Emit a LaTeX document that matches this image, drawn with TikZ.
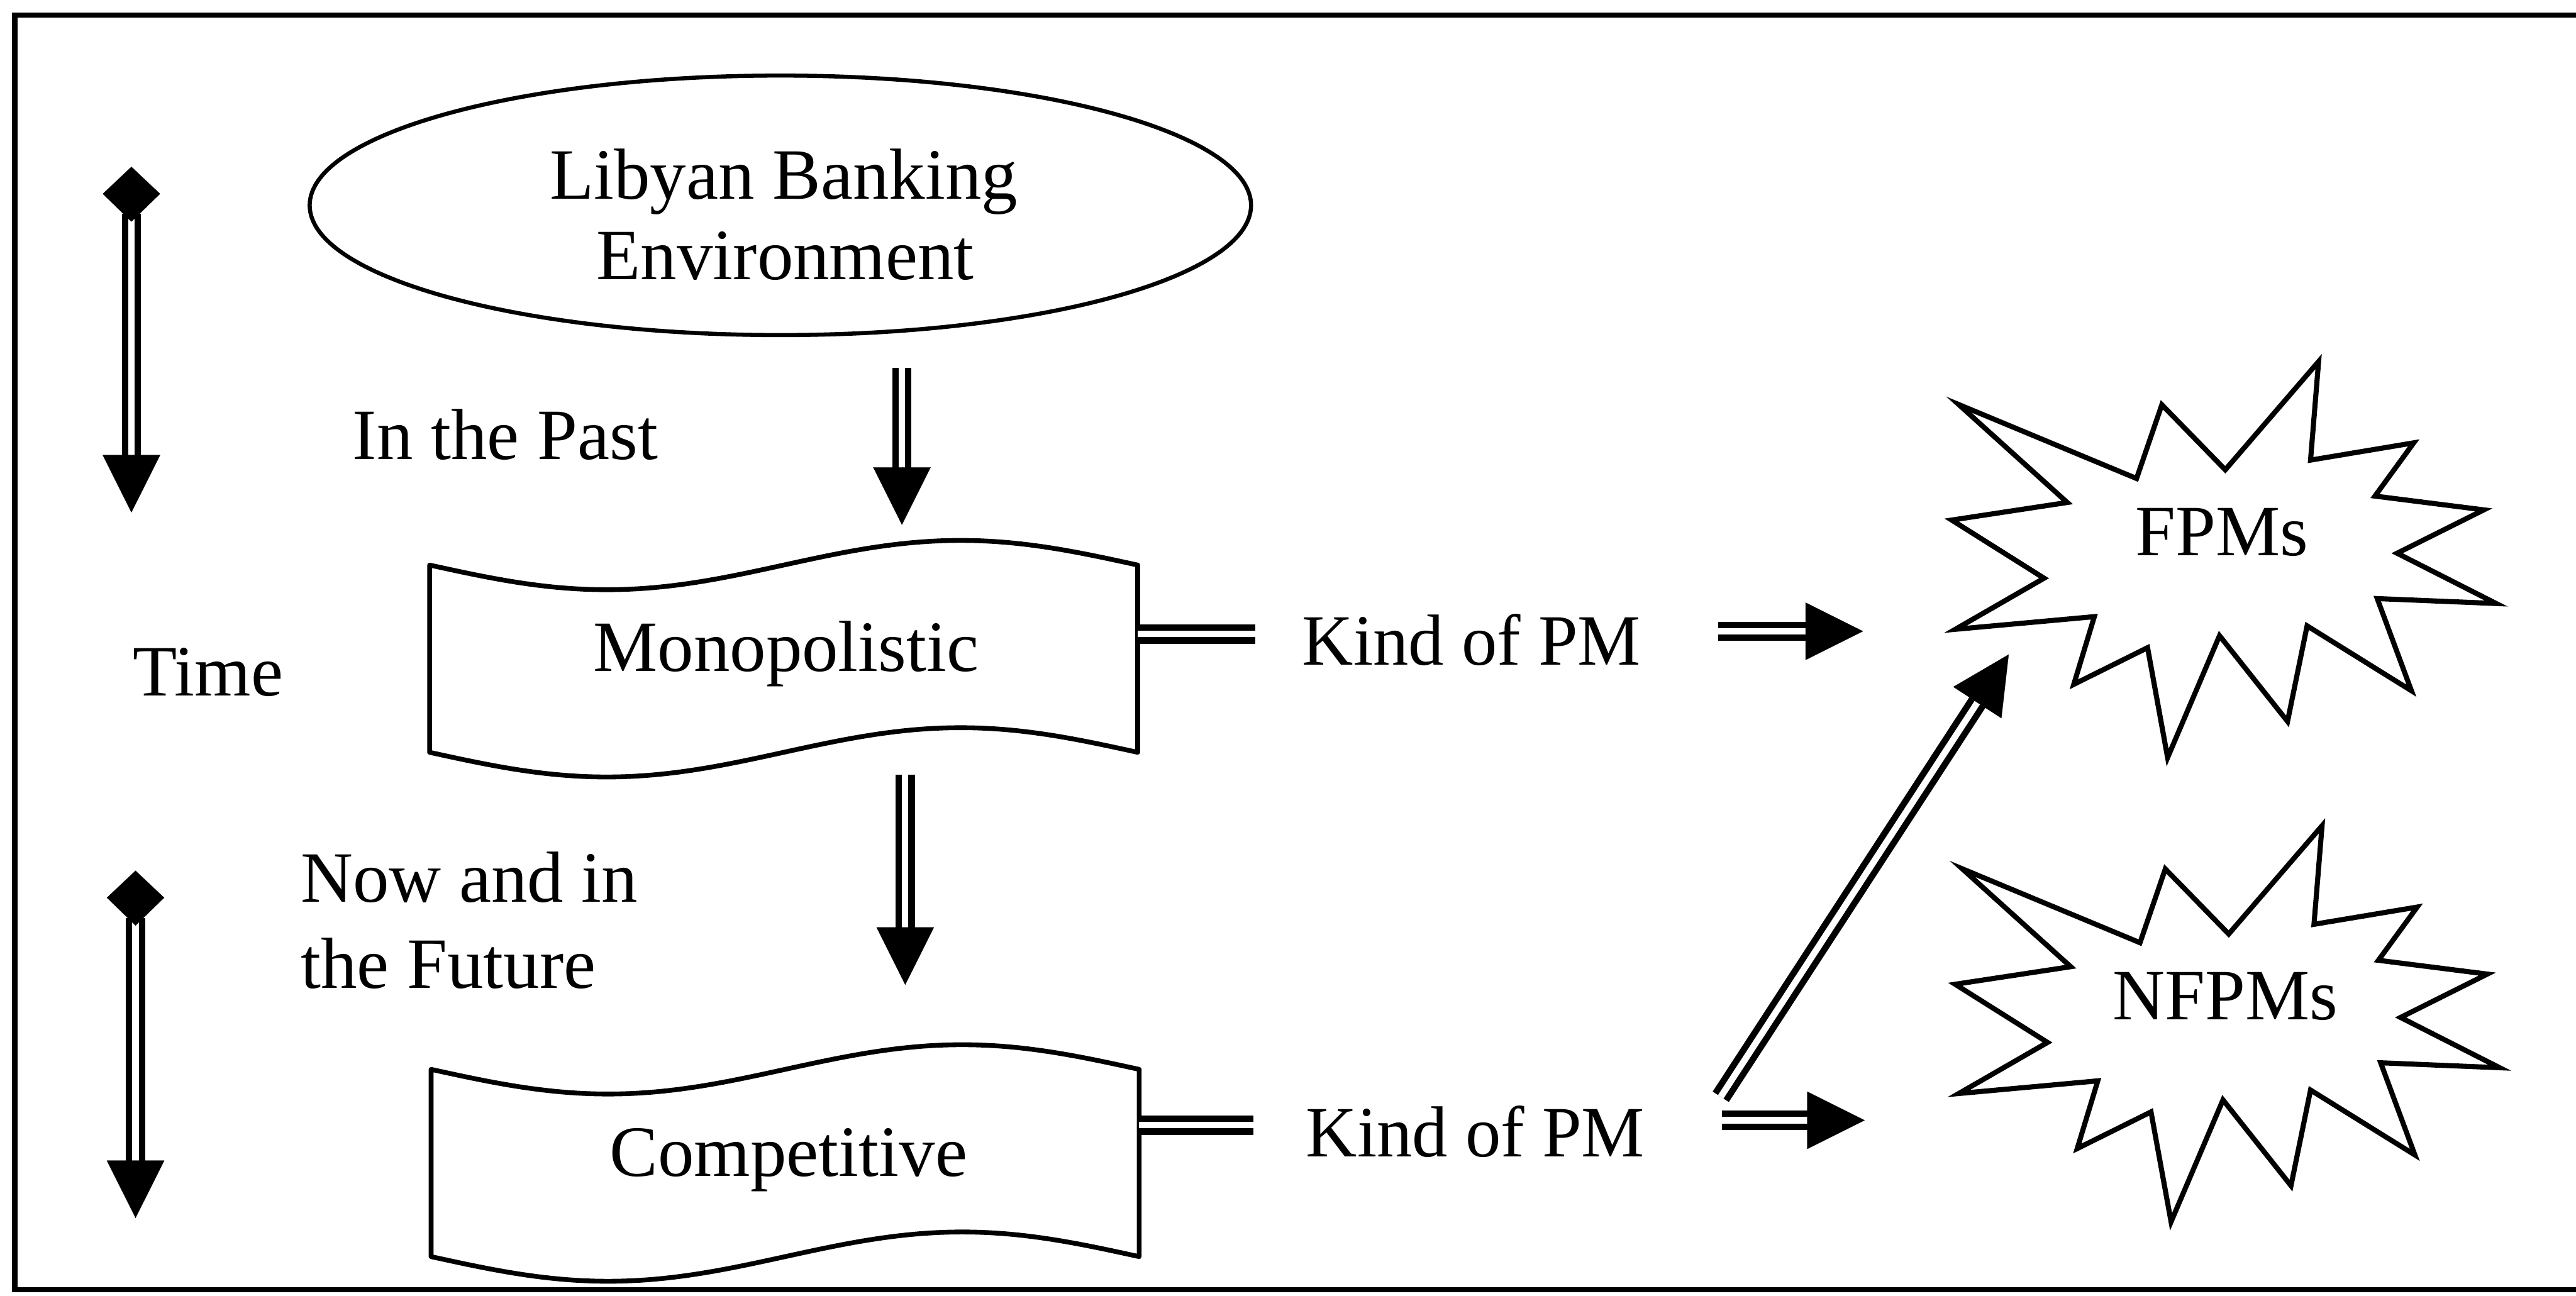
\documentclass[tikz,border=0pt]{standalone}
\usepackage{fontspec}
\setmainfont{Liberation Serif}
\usetikzlibrary{arrows.meta,shapes.geometric}
\begin{document}
\begin{tikzpicture}[x=1pt,y=-1pt,
  txt/.style={font=\fontsize{44}{49}\selectfont, inner sep=0pt, outer sep=0pt},
  frameline/.style={line width=3.1pt},
  outline/.style={line width=2.9pt, line join=round},
  shaft/.style={double=white, double distance=3.9pt, line width=3.9pt},
  headtip/.style={-{Triangle[length=35pt,width=35pt]}, line width=0.1pt},
  starline/.style={line width=3.1pt, line join=miter},
  banner/.pic={
    \draw[outline] (0,0) sin (107.75,15) cos (215.5,0) sin (323.25,-15) cos (431,0)
      -- (431,114) sin (323.25,99) cos (215.5,114) sin (107.75,129) cos (0,114) -- cycle;
  },
  burst/.pic={
    \draw[starline] (-160.3,-91.9) -- (-52.1,-46.9) -- (-36.7,-91.8) -- (1.9,-52.2)
      -- (58.7,-118.1) -- (53.8,-58.1) -- (116.6,-68.6) -- (93.0,-36.2)
      -- (159.3,-27.8) -- (106.5,-1.4) -- (166.8,29.2) -- (94.4,26.2)
      -- (115.2,82.3) -- (51.7,42.8) -- (39.8,101.0) -- (-1.6,48.8)
      -- (-33.2,123.0) -- (-45.4,56.1) -- (-90.3,78.4) -- (-77.8,37.2)
      -- (-162.4,44.9) -- (-108.4,13.8) -- (-164.6,-21.6) -- (-94.3,-32.3) -- cycle;
  },
  rhomb/.style={fill=black}
]
\useasboundingbox (0,0) rectangle (1568,788.6);

% outer frame (open on the right)
\draw[frameline] (1572,9.3) -- (9,9.3) -- (9,785.3) -- (1572,785.3);

% top ellipse
\node[draw, ellipse, line width=2.5pt, minimum width=573pt, minimum height=158pt, inner sep=0pt] (env) at (475,125) {};
\node[txt, anchor=base] (envtop) at (477,121) {Libyan Banking};
\node[txt, anchor=base] (envbot) at (478,170) {Environment};

% wavy banners
\pic at (261.5,344) {banner};
\pic at (262.4,651) {banner};
\node[txt, anchor=base] (mono) at (478.5,408.8) {Monopolistic};
\node[txt, anchor=base] (comp) at (480,716) {Competitive};

% side labels
\node[txt, anchor=base west] (past) at (214.7,279.8) {In the Past};
\node[txt, anchor=base west] (time) at (81,423.6) {Time};
\node[txt, anchor=base west] (nowA) at (183,549) {Now and in};
\node[txt, anchor=base west] (nowB) at (183,601.5) {the Future};
\node[txt, anchor=base west, xscale=0.98] (kindA) at (792.7,405) {Kind of PM};
\node[txt, anchor=base west, xscale=0.98] (kindB) at (795,704) {Kind of PM};

% starbursts
\pic at (1352.6,338.2) {burst};
\node[txt, anchor=base] (fpm) at (1352.6,338.2) {FPMs};
\pic at (1354.7,620.8) {burst};
\node[txt, anchor=base] (nfpm) at (1354.7,620.8) {NFPMs};

% connector end points
\coordinate (a1s) at (549,224);   \coordinate (a1b) at (549,285);   \coordinate (a1t) at (549,319.5);
\coordinate (a2s) at (551,471.5); \coordinate (a2b) at (551,565);   \coordinate (a2t) at (551,599.5);
\coordinate (t1d) at (80,101.5);  \coordinate (t1s) at (80,130);    \coordinate (t1b) at (80,277.6);  \coordinate (t1t) at (80,312);
\coordinate (t2d) at (82.5,530);  \coordinate (t2s) at (82.5,559);  \coordinate (t2b) at (82.5,707);  \coordinate (t2t) at (82.5,741.5);
\coordinate (monoE) at (692.5,386); \coordinate (stub1) at (764,386);
\coordinate (compE) at (693.4,685); \coordinate (stub2) at (763,685);
\coordinate (r1s) at (1046,384.3); \coordinate (r1b) at (1099,384.3); \coordinate (r1t) at (1134,384.3);
\coordinate (r2s) at (1048,682);   \coordinate (r2b) at (1101,682);   \coordinate (r2t) at (1135,682);
\coordinate (dgs) at (1047.4,667.7); \coordinate (dgb) at (1203.6,427.7); \coordinate (dgt) at (1222.7,398.4);

% double-line shafts
\foreach \s/\b in {a1s/a1b, a2s/a2b, t1s/t1b, t2s/t2b, monoE/stub1, compE/stub2, r1s/r1b, r2s/r2b, dgs/dgb}
  \draw[shaft] (\s) -- (\b);

% solid arrow heads
\foreach \b/\t in {a1b/a1t, a2b/a2t, t1b/t1t, t2b/t2t, r1b/r1t, r2b/r2t, dgb/dgt}
  \draw[headtip] (\b) -- (\t);

% diamond tails of the time arrows
\fill[rhomb] (t1d) -- ++(17.5,16.5) -- ++(-17.5,17) -- ++(-17.5,-17) -- cycle;
\fill[rhomb] (t2d) -- ++(17.5,16.5) -- ++(-17.5,17) -- ++(-17.5,-17) -- cycle;
\end{tikzpicture}
\end{document}
